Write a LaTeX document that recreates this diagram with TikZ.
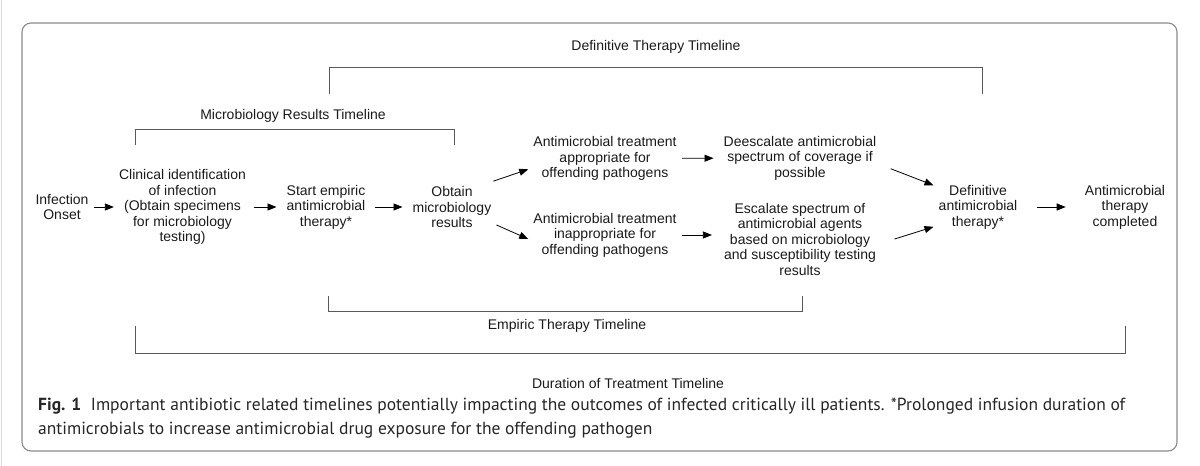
\documentclass[tikz,border=0pt]{standalone}
\usepackage{fontspec}
\setmainfont{Liberation Sans}
\newfontfamily\capfont{PT Sans}
\usetikzlibrary{arrows.meta}
\definecolor{txt}{HTML}{1A1A1A}
\definecolor{rule}{HTML}{5A5A5A}
\definecolor{frame}{HTML}{8A8A8A}

\begin{document}
\begin{tikzpicture}[x=1pt,y=-1pt,font=\fontsize{14}{15.5}\selectfont,text=txt]
    \tikzstyle{n} = [align=center,inner sep=5pt]
    \tikzstyle{Arr} = [draw,-{Stealth[length=9pt,width=7pt,inset=0pt]},line width=.8pt]
    \tikzstyle{bracket} = [draw=rule,line width=1pt]
    \useasboundingbox (0,0) rectangle (1200,466);
    \draw [gray!30] (1,0) -- (1,466);
    \draw [frame,line width=1.1pt,rounded corners=9pt] (22,23) rectangle (1177,451);
    %% main row
    \node [n] (onset) at (62,207) {Infection\\Onset};
    \node [n] (clinical) at (182.5,207) {Clinical identification\\of infection\\(Obtain specimens\\for microbiology\\testing)};
    \node [n] (start) at (326,207) {Start empiric\\antimicrobial\\therapy*};
    \node [n] (obtain) at (452,207) {Obtain\\microbiology\\results};
    \node [n] (approp) at (605,158.5) {Antimicrobial treatment\\appropriate for\\offending pathogens};
    \node [n] (inapprop) at (605,235) {Antimicrobial treatment\\inappropriate for\\offending pathogens};
    \node [n] (deesc) at (800,158) {Deescalate antimicrobial\\spectrum of coverage if\\possible};
    \node [n] (esc) at (800,239) {Escalate spectrum of\\antimicrobial agents\\based on microbiology\\and susceptibility testing\\results};
    \node [n] (definitive) at (978,207) {Definitive\\antimicrobial\\therapy*};
    \node [n] (completed) at (1125,207) {Antimicrobial\\therapy\\completed};
    %% arrows
    \path [Arr] (onset) -- (clinical);
    \path [Arr,shorten <=3pt,shorten >=5pt] (clinical) -- (start);
    \path [Arr,shorten <=5pt,shorten >=5pt] (start) -- (obtain);
    \path [Arr] (obtain.32) -- (approp.188);
    \path [Arr] (obtain.-22) -- (inapprop.183);
    \path [Arr,shorten >=5pt] (approp) -- (deesc);
    \path [Arr,shorten >=7pt] (inapprop) -- (inapprop -| esc.west);
    \path [Arr,shorten <=10pt] (deesc.-5) -- (definitive.154);
    \path [Arr,shorten <=14pt] (esc.-3) -- (definitive.204);
    \path [Arr,shorten <=14pt,shorten >=14pt] (definitive) -- (completed);
    %% timelines
    \draw [bracket] (329,94) -- (329,67) -- (982,67) -- (982,94);
    \node [anchor=base] (deftitle) at (656,50) {Definitive Therapy Timeline};
    \draw [bracket] (135,145) -- (135,129) -- (454,129) -- (454,145);
    \node [anchor=base] (mictitle) at (293,119) {Microbiology Results Timeline};
    \draw [bracket] (328,296) -- (328,311) -- (802,311) -- (802,296);
    \node [anchor=base] (emptitle) at (567,329) {Empiric Therapy Timeline};
    \draw [bracket] (135,326) -- (135,353) -- (1125,353) -- (1125,326);
    \node [anchor=base] (durtitle) at (628,388) {Duration of Treatment Timeline};
    %% caption
    \node [anchor=north west,align=left,inner sep=0pt,text=black!85,
      font=\capfont\fontsize{17.5}{23.5}\selectfont] (caption) at (38,398)
      {\textbf{Fig. 1}\hspace{.55em}Important antibiotic related timelines potentially impacting the outcomes of infected critically ill patients. *Prolonged infusion duration of\\antimicrobials to increase antimicrobial drug exposure for the offending pathogen};
\end{tikzpicture}
\end{document}
